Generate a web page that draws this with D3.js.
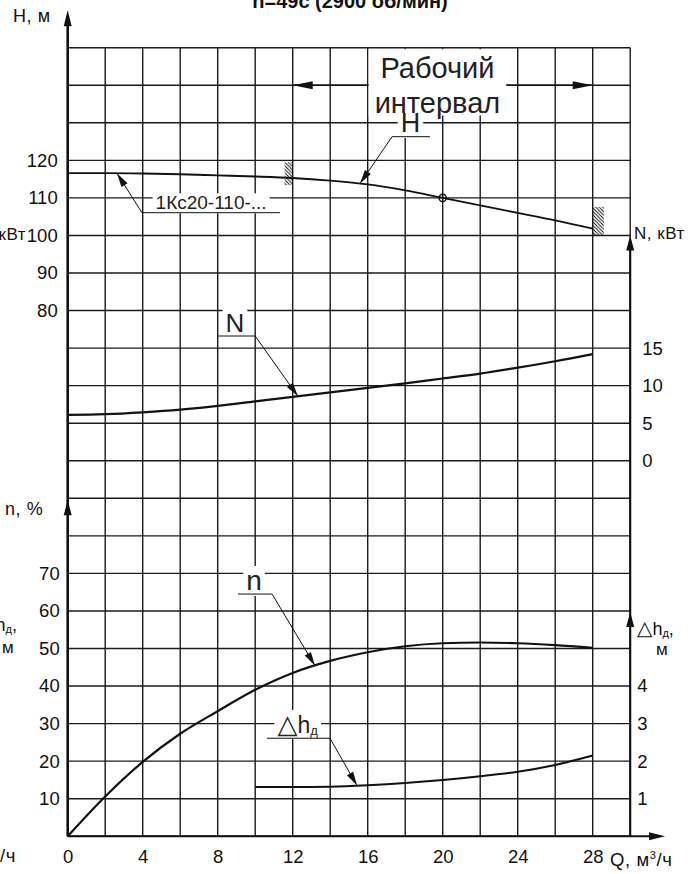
<!DOCTYPE html>
<html><head><meta charset="utf-8">
<script src="https://cdn.jsdelivr.net/npm/d3@7/dist/d3.min.js"></script>
<style>body{margin:0;background:#fff} svg{display:block}</style>
</head><body>
<svg id="c" width="699" height="874"></svg>
<script>
// ---------- data ----------
const qValues     = [0, 2, 4, 6, 8, 10, 12, 14, 16, 18, 20, 22, 24, 26, 28];
const headValues  = [116.6, 116.6, 116.5, 116.3, 116.0, 115.7, 115.3, 114.6, 113.6, 112.0, 110.0, 108.0, 106.0, 104.0, 101.8];
const powerValues = [6.1, 6.2, 6.45, 6.8, 7.3, 7.9, 8.5, 9.1, 9.7, 10.3, 10.95, 11.6, 12.4, 13.25, 14.2];
const effValues   = [0, 10.6, 19.8, 27.3, 33.3, 39.0, 43.5, 46.7, 49.0, 50.6, 51.4, 51.6, 51.4, 50.9, 50.2];
const npshQ       = [10, 12, 14, 16, 18, 20, 22, 24, 26, 28];
const npshValues  = [1.31, 1.31, 1.32, 1.36, 1.42, 1.5, 1.6, 1.72, 1.9, 2.15];
const qTicks      = [0, 4, 8, 12, 16, 20, 24, 28];
const headTicks   = [80, 90, 100, 110, 120];
const powerTicks  = [0, 5, 10, 15];
const effTicks    = [10, 20, 30, 40, 50, 60, 70];
const npshTicks   = [1, 2, 3, 4];
const dutyPoint   = {q: 20, h: 110};
const workRange   = [12, 28];

const FONT = '"Liberation Sans", Arial, Helvetica, sans-serif';
const INK = "#111";
const svg = d3.select("#c");

// ---------- scales ----------
const x    = d3.scaleLinear([0, 30], [67.7, 630.2]);
const row  = d3.scaleLinear([0, 21], [47.7, 836.25]);
const yH   = d3.scaleLinear([120, 80], [row(3), row(7)]);
const yN   = d3.scaleLinear([0, 15], [row(11), row(8)]);
const yE   = d3.scaleLinear([0, 70], [row(21), row(14)]);
const yD   = d3.scaleLinear([0, 4], [row(21), row(17)]);

const gridG  = svg.append("g");
const boxG   = svg.append("g");
const curveG = svg.append("g");
const textG  = svg.append("g");

// ---------- hatch pattern ----------
const defs = svg.append("defs");
const pat = defs.append("pattern").attr("id","hatch").attr("patternUnits","userSpaceOnUse")
  .attr("width",3.5).attr("height",3.5);
pat.append("path").attr("d","M-1,-1 L4.5,4.5 M-1,2.5 L1,4.5 M2.5,-1 L4.5,1")
  .attr("stroke",INK).attr("stroke-width",0.9);

// ---------- grid ----------
gridG.selectAll("line.v").data(d3.range(0, 31, 2)).join("line")
  .attr("x1", d => x(d)).attr("x2", d => x(d))
  .attr("y1", row(0)).attr("y2", row(21))
  .attr("stroke", "#1a1a1a").attr("stroke-width", 1.4);
gridG.selectAll("line.h").data(d3.range(0, 22)).join("line")
  .attr("x1", x(0)).attr("x2", x(30))
  .attr("y1", d => row(d)).attr("y2", d => row(d))
  .attr("stroke", "#1a1a1a").attr("stroke-width", 1.4);

// working interval line (hidden in middle by the text box)
gridG.append("line").attr("x1", x(workRange[0])).attr("x2", x(workRange[1]))
  .attr("y1", row(1)).attr("y2", row(1)).attr("stroke", INK).attr("stroke-width", 1.6);

// ---------- helpers ----------
function arrowHead(g, x1, y1, x2, y2, len, hw) {
  const a = Math.atan2(y2 - y1, x2 - x1);
  const bx = x2 - len * Math.cos(a), by = y2 - len * Math.sin(a);
  const px = -Math.sin(a) * hw, py = Math.cos(a) * hw;
  g.append("path").attr("d", `M${x2},${y2} L${bx + px},${by + py} L${bx - px},${by - py} Z`)
    .attr("fill", INK);
}
function interp(qs, vs, q) {
  for (let i = 0; i < qs.length - 1; i++) {
    if (q >= qs[i] && q <= qs[i + 1]) {
      const t = (q - qs[i]) / (qs[i + 1] - qs[i]);
      return vs[i] + t * (vs[i + 1] - vs[i]);
    }
  }
  return vs[vs.length - 1];
}

// ---------- axes (tick labels) ----------
const TICK = 18.5;
function styleAxis(g, size) {
  g.select(".domain").remove();
  g.attr("font-family", FONT).attr("font-size", size);
  g.selectAll("text").attr("fill", INK);
}
const fmt = d3.format("d");
svg.append("g").attr("transform", `translate(${x(0)},0)`)
  .call(d3.axisLeft(yH).tickValues(headTicks).tickFormat(fmt).tickSize(0).tickPadding(10)).call(g => styleAxis(g, TICK));
svg.append("g").attr("transform", `translate(${x(0)},0)`)
  .call(d3.axisLeft(yE).tickValues(effTicks).tickFormat(fmt).tickSize(0).tickPadding(8)).call(g => styleAxis(g, TICK));
svg.append("g").attr("transform", `translate(${x(30)},0)`)
  .call(d3.axisRight(yN).tickValues(powerTicks).tickFormat(fmt).tickSize(0).tickPadding(12)).call(g => styleAxis(g, TICK));
svg.append("g").attr("transform", `translate(${x(30)},0)`)
  .call(d3.axisRight(yD).tickValues(npshTicks).tickFormat(fmt).tickSize(0).tickPadding(7)).call(g => styleAxis(g, TICK));
svg.append("g").attr("transform", `translate(0,${row(21)})`)
  .call(d3.axisBottom(x).tickValues(qTicks).tickFormat(fmt).tickSize(0).tickPadding(14)).call(g => styleAxis(g, TICK));

// ---------- axis lines with arrows ----------
const axG = svg.append("g");
axG.append("line").attr("x1", x(0)).attr("x2", x(0)).attr("y1", row(-1) + 6).attr("y2", row(21))
  .attr("stroke", INK).attr("stroke-width", 2.6);
arrowHead(axG, x(0), row(0), x(0), row(-1), 16, 4);
arrowHead(axG, x(0), row(13), x(0), row(12.05), 15, 4);
axG.append("line").attr("x1", x(30)).attr("x2", x(30)).attr("y1", row(5) + 6).attr("y2", row(21))
  .attr("stroke", INK).attr("stroke-width", 2.1);
arrowHead(axG, x(30), row(6), x(30), row(5), 15, 4);
arrowHead(axG, x(30), row(16), x(30), row(15.03), 15, 4);
axG.append("line").attr("x1", x(0)).attr("x2", x(31.86) - 6).attr("y1", row(21)).attr("y2", row(21))
  .attr("stroke", INK).attr("stroke-width", 2.1);
arrowHead(axG, x(30), row(21), x(31.86), row(21), 16, 4);

// ---------- hatched limits ----------
curveG.append("rect").attr("x", x(11.57)).attr("width", x(12) - x(11.57))
  .attr("y", yH(119.5)).attr("height", yH(113.4) - yH(119.5)).attr("fill", "url(#hatch)");
curveG.append("rect").attr("x", x(28)).attr("width", x(28.6) - x(28))
  .attr("y", yH(107.6)).attr("height", yH(100.1) - yH(107.6)).attr("fill", "url(#hatch)");

// ---------- curves ----------
const mk = (ys) => d3.line().x(d => x(d[0])).y(d => ys(d[1])).curve(d3.curveMonotoneX);
curveG.append("path").attr("d", mk(yH)(d3.zip(qValues, headValues)))
  .attr("fill", "none").attr("stroke", INK).attr("stroke-width", 1.9);
curveG.append("path").attr("d", mk(yN)(d3.zip(qValues, powerValues)))
  .attr("fill", "none").attr("stroke", INK).attr("stroke-width", 2.2);
curveG.append("path").attr("d", mk(yE)(d3.zip(qValues, effValues)))
  .attr("fill", "none").attr("stroke", INK).attr("stroke-width", 2.2);
curveG.append("path").attr("d", mk(yD)(d3.zip(npshQ, npshValues)))
  .attr("fill", "none").attr("stroke", INK).attr("stroke-width", 2.1);
curveG.append("circle").attr("cx", x(dutyPoint.q)).attr("cy", yH(dutyPoint.h)).attr("r", 3.6)
  .attr("fill", "none").attr("stroke", INK).attr("stroke-width", 1.5);
curveG.append("line").attr("x1", x(dutyPoint.q)).attr("x2", x(dutyPoint.q))
  .attr("y1", yH(dutyPoint.h) - 3.6).attr("y2", yH(dutyPoint.h) + 3.6).attr("stroke", INK).attr("stroke-width", 1);

// ---------- curve labels ----------
const curveLabels = [
  {text: "H", scale: yH, qs: qValues, vs: headValues, q: 18.28, base: 127.55, size: 27, u: [17.3, 19.32], uv: 126.3, from: 0, tip: 15.59},
  {text: "1Кс20-110-...", scale: yH, qs: qValues, vs: headValues, q: 7.65, base: 106.96, size: 19, u: [3.96, 11.32], uv: 106.06, from: 0, tip: 2.63},
  {text: "N", scale: yN, qs: qValues, vs: powerValues, q: 8.92, base: 17.14, size: 26, u: [8.02, 10.0], uv: 16.61, from: 1, tip: 12.28},
  {text: "n", scale: yE, qs: qValues, vs: effValues, q: 9.94, base: 65.58, size: 28, u: [9.08, 10.9], uv: 64.5, from: 1, tip: 13.19},
  {text: "dh", scale: yD, qs: npshQ, vs: npshValues, q: 12.26, base: 2.75, size: 23, u: [10.63, 13.99], uv: 2.61, from: 1, tip: 15.43}
];
curveLabels.forEach(L => {
  const t = textG.append("text").attr("x", x(L.q)).attr("y", L.scale(L.base))
    .attr("text-anchor", "middle").attr("font-family", FONT).attr("font-size", L.size).attr("fill", "#222");
  if (L.text === "dh") {
    t.append("tspan").attr("font-family", '"DejaVu Sans", sans-serif').attr("font-size", 26).text("△");
    t.append("tspan").text("h");
    t.append("tspan").attr("font-size", 13).attr("dy", 2).text("д");
  } else {
    t.text(L.text);
  }
  const bb = t.node().getBBox();
  boxG.append("rect").attr("x", bb.x - 3).attr("y", bb.y + 1).attr("width", bb.width + 6).attr("height", bb.height - 1)
    .attr("fill", "#fff");
  const uy = L.scale(L.uv);
  textG.append("line").attr("x1", x(L.u[0])).attr("x2", x(L.u[1])).attr("y1", uy).attr("y2", uy)
    .attr("stroke", INK).attr("stroke-width", 1);
  const fx = x(L.u[L.from]);
  const tx = x(L.tip), ty = L.scale(interp(L.qs, L.vs, L.tip));
  textG.append("line").attr("x1", fx).attr("y1", uy).attr("x2", tx).attr("y2", ty)
    .attr("stroke", INK).attr("stroke-width", 1);
  arrowHead(textG, fx, uy, tx, ty, 14, 3.6);
});

// ---------- working interval ----------
const wq = 19.72;
const w1 = textG.append("text").attr("x", x(wq)).attr("y", row(0.81)).attr("text-anchor", "middle")
  .attr("font-family", FONT).attr("font-size", 29).attr("fill", "#222").text("Рабочий");
const w2 = textG.append("text").attr("x", x(wq)).attr("y", row(1.74)).attr("text-anchor", "middle")
  .attr("font-family", FONT).attr("font-size", 29).attr("fill", "#222").text("интервал");
{
  const b1 = w1.node().getBBox(), b2 = w2.node().getBBox();
  const x0 = Math.min(b1.x, b2.x) - 6, x1 = Math.max(b1.x + b1.width, b2.x + b2.width) + 6;
  boxG.append("rect").attr("x", x0).attr("y", row(0) + 1.5).attr("width", x1 - x0)
    .attr("height", b2.y + b2.height - row(0) - 5).attr("fill", "#fff");
}
arrowHead(textG, x(28), row(1), x(workRange[0]), row(1), 20, 4);
arrowHead(textG, x(12), row(1), x(workRange[1]), row(1), 20, 4);

// ---------- axis titles ----------
function lbl(txt, xx, yy, size, anchor, weight, ls) {
  return svg.append("text").attr("x", xx).attr("y", yy).attr("font-family", FONT).attr("font-size", size)
    .attr("text-anchor", anchor || "start").attr("font-weight", weight || "normal")
    .attr("letter-spacing", ls || 0).attr("fill", INK).text(txt);
}
lbl("n=49с (2900 об/мин)", 350, 7.5, 20, "middle", "bold");
lbl("H, м", 13, 22, 18, "start", "normal", 0.6);
lbl("n, %", 5, 515, 18, "start", "normal", 0.6);
lbl("N, кВт", 634, 239, 17, "start", "normal", 0.5);
lbl("N, кВт", 26, 240, 17, "end", "normal", 0.5);
function dhLabel(xx, yy, anchor) {
  const t = svg.append("text").attr("x", xx).attr("y", yy).attr("font-family", FONT).attr("font-size", 18)
    .attr("text-anchor", anchor).attr("fill", INK);
  t.append("tspan").attr("font-family", '"DejaVu Sans", sans-serif').attr("font-size", 20).text("△");
  t.append("tspan").text("h");
  t.append("tspan").attr("font-size", 11).attr("dy", 2).text("д");
  t.append("tspan").attr("dy", -2).text(",");
}
dhLabel(637, 635, "start");
lbl("м", 656, 655, 17);
dhLabel(17, 631, "end");
lbl("м", 2, 653, 17);
function qLabel(xx, yy, anchor) {
  const t = svg.append("text").attr("x", xx).attr("y", yy).attr("font-family", FONT).attr("font-size", 18.5)
    .attr("letter-spacing", 0.6).attr("text-anchor", anchor).attr("fill", INK);
  t.append("tspan").text("Q, м");
  t.append("tspan").attr("font-size", 11).attr("dy", -7).text("3");
  t.append("tspan").attr("dy", 7).text("/ч");
}
qLabel(610, 866, "start");
qLabel(16, 862, "end");
</script>
</body></html>
